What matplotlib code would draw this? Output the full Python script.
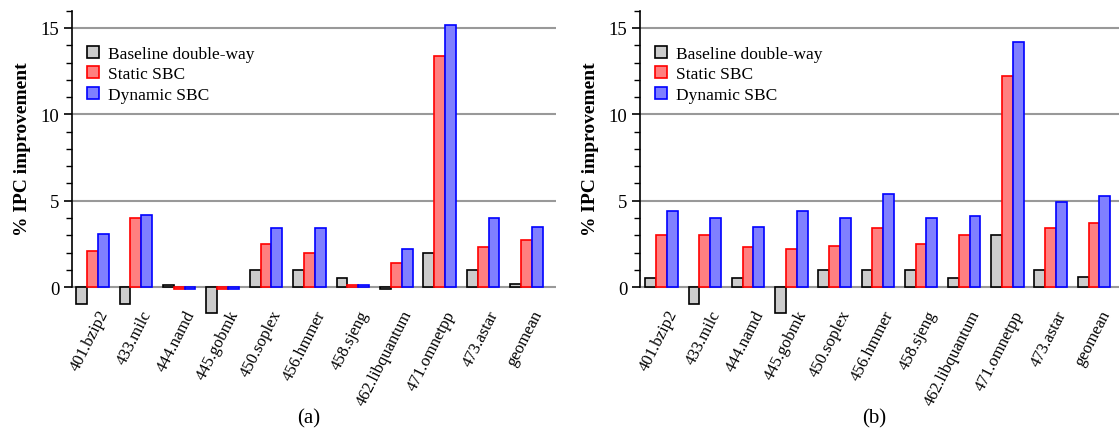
import matplotlib
matplotlib.use("Agg")
import matplotlib.pyplot as plt
import matplotlib.transforms as mtransforms
import numpy as np

# Data
benchmarks = ["401.bzip2", "433.milc", "444.namd", "445.gobmk", "450.soplex",
              "456.hmmer", "458.sjeng", "462.libquantum", "471.omnetpp",
              "473.astar", "geomean"]
series_names = ["Baseline double-way", "Static SBC", "Dynamic SBC"]

# panel (a)
baseline_a = [-1.0, -1.0, 0.1, -1.5, 1.0, 1.0, 0.5, -0.1, 2.0, 1.0, 0.2]
static_a = [2.1, 4.0, -0.1, -0.1, 2.5, 2.0, 0.1, 1.4, 13.4, 2.3, 2.7]
dynamic_a = [3.1, 4.2, -0.1, -0.1, 3.4, 3.4, 0.1, 2.2, 15.2, 4.0, 3.5]

# panel (b)
baseline_b = [0.5, -1.0, 0.5, -1.5, 1.0, 1.0, 1.0, 0.5, 3.0, 1.0, 0.6]
static_b = [3.0, 3.0, 2.3, 2.2, 2.4, 3.4, 2.5, 3.0, 12.2, 3.4, 3.7]
dynamic_b = [4.4, 4.0, 3.5, 4.4, 4.0, 5.4, 4.0, 4.1, 14.2, 4.9, 5.25]

faces = ["#cccccc", "#ff8080", "#8080ff"]
edges = ["black", "red", "blue"]

plt.rcParams["font.family"] = ["Liberation Serif", "DejaVu Serif"]
plt.rcParams["font.size"] = 12

fig = plt.figure(figsize=(11.19, 4.35), dpi=100)

W, H = 1119.0, 435.0
top_px = 11.7
bot_px = 315.7
panels = [
    (72, 556, (-0.47, 10.68), [baseline_a, static_a, dynamic_a], "(a)"),
    (640, 1119, (-0.5, 10.58), [baseline_b, static_b, dynamic_b], "(b)"),
]

x = np.arange(len(benchmarks))
width = 0.25

for left, right, xlim, data, caption in panels:
    ax = fig.add_axes([left / W, 1 - bot_px / H, (right - left) / W, (bot_px - top_px) / H])
    for k in range(3):
        ax.bar(x + (k - 1) * width, data[k], width, color=faces[k],
               edgecolor=edges[k], linewidth=1.2, label=series_names[k], zorder=3)
    for g in [5, 10, 15]:
        ax.axhline(g, color="#999999", linewidth=1.5, zorder=1)
    ax.axhline(0, color="#999999", linewidth=1.5, zorder=2)

    ax.set_xlim(*xlim)
    ax.set_ylim(-1.6, 16)
    ax.set_yticks([0, 5, 10, 15])
    ax.set_yticks(np.arange(0, 16.5, 1), minor=True)
    ax.tick_params(axis="y", which="major", length=5.5, width=1.2,
                   direction="out", labelsize=13.5)
    ax.tick_params(axis="y", which="minor", length=4, width=1, direction="out")
    for s in ["top", "right", "bottom"]:
        ax.spines[s].set_visible(False)
    ax.spines["left"].set_bounds(0, 16)
    ax.spines["left"].set_linewidth(1.2)

    ax.set_xticks(x)
    ax.set_xticklabels(benchmarks, rotation=63, ha="right", va="center",
                       rotation_mode="anchor")
    ax.tick_params(axis="x", length=0, pad=0)
    offset = mtransforms.ScaledTranslation(12 / 100, 4 / 100, fig.dpi_scale_trans)
    for lab in ax.get_xticklabels():
        lab.set_transform(lab.get_transform() + offset)

    ax.set_ylabel("% IPC improvement", fontsize=14, fontweight="bold")
    ax.yaxis.set_label_coords(-0.085, 0.548)

    ax.legend(loc="upper left", bbox_to_anchor=(0.031, 0.885), frameon=False,
              borderaxespad=0, borderpad=0, handlelength=0.7, handleheight=0.7,
              handletextpad=0.5, labelspacing=0.25, fontsize=12.5)

    fig.text(((left + right) / 2 - 5) / W, 1 - 419 / H, caption, ha="center",
             va="center", fontsize=15)

fig.savefig("out.png", dpi=100)
